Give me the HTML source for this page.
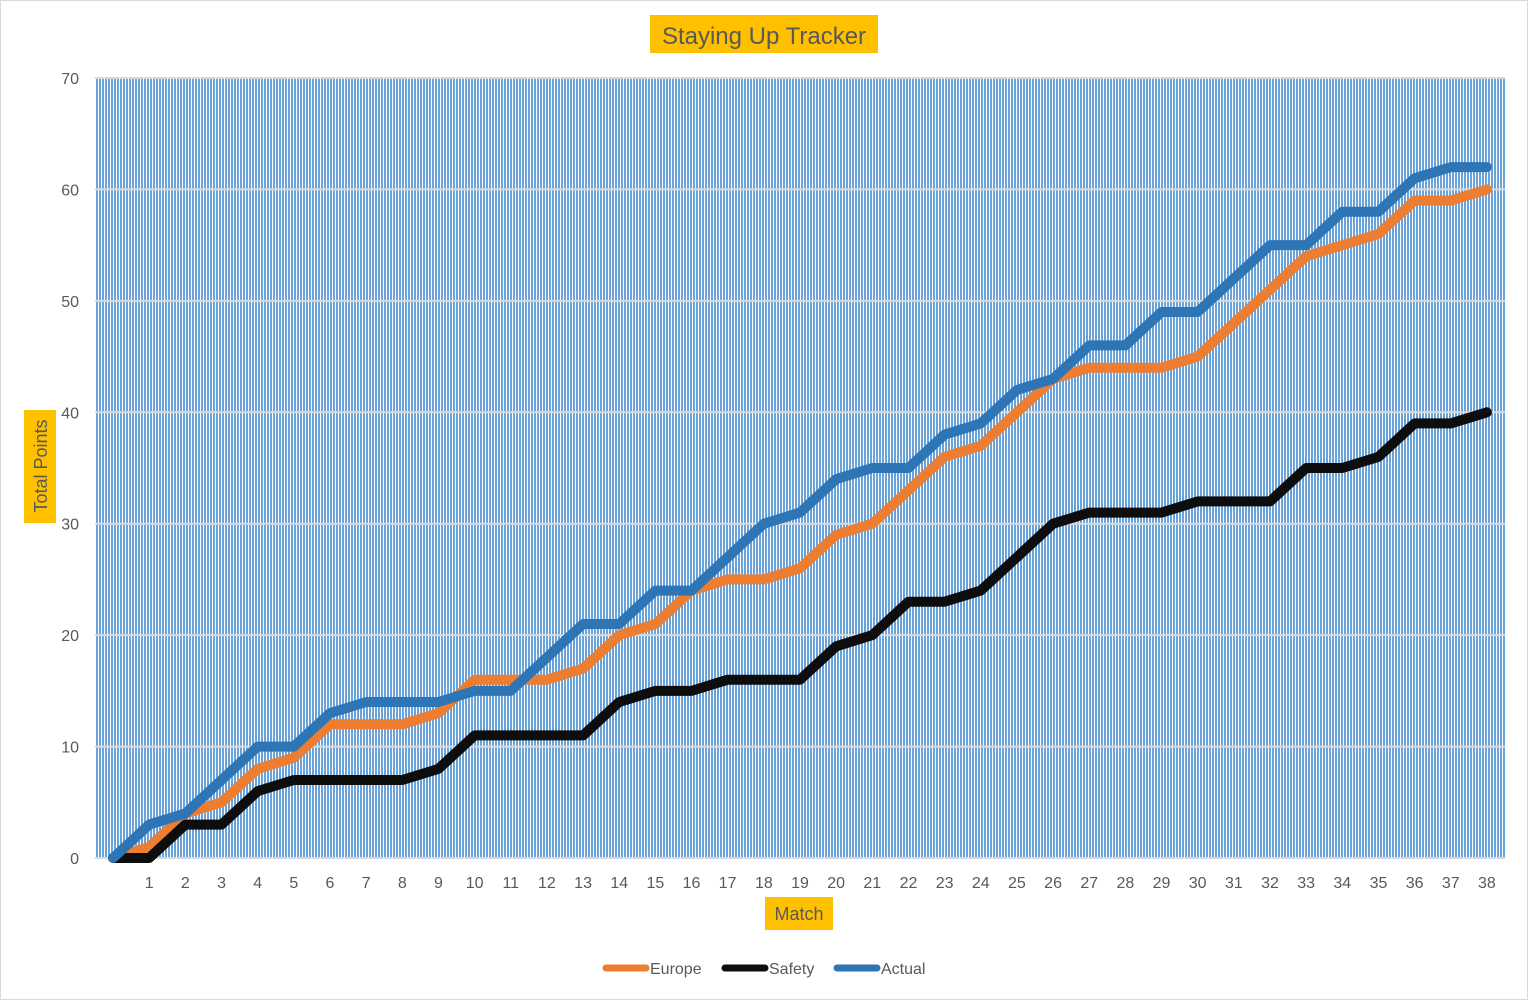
<!DOCTYPE html>
<html><head><meta charset="utf-8"><style>
body{margin:0;width:1528px;height:1000px;background:#fff;overflow:hidden;font-family:"Liberation Sans",Arial,sans-serif}
</style></head><body>
<svg id="chart" width="1528" height="1000" xmlns="http://www.w3.org/2000/svg" font-family="Liberation Sans, Arial, sans-serif">
<defs>
<pattern id="stripes" width="3" height="10" patternUnits="userSpaceOnUse">
<rect x="0" y="0" width="2" height="10" fill="#6aa3da"/>
</pattern>
</defs>
<rect x="0.5" y="0.5" width="1527" height="999" fill="#fff" stroke="#d9d9d9"/>
<rect x="95" y="78" width="1410" height="780" fill="url(#stripes)"/>
<g id="grid"></g>
<g id="yticks" font-size="16" fill="#595959" text-anchor="end"></g>
<g id="xticks" font-size="16" fill="#595959" text-anchor="middle"></g>
<g id="series"></g>
<rect x="650" y="15" width="228" height="38" fill="#ffc000"/>
<text x="764" y="44" font-size="24" fill="#595959" text-anchor="middle">Staying Up Tracker</text>
<rect x="24" y="410" width="32" height="113" fill="#ffc000"/>
<text transform="translate(47,466) rotate(-90)" font-size="18" fill="#595959" text-anchor="middle">Total Points</text>
<rect x="765" y="897" width="68" height="33" fill="#ffc000"/>
<text x="799" y="920" font-size="18" fill="#595959" text-anchor="middle">Match</text>
<g font-size="16" fill="#595959">
<g><line x1="606" y1="968" x2="646" y2="968" stroke="#ed7d31" stroke-width="7" stroke-linecap="round"/><text x="650" y="974">Europe</text></g>
<g><line x1="725" y1="968" x2="765" y2="968" stroke="#0d0d0d" stroke-width="7" stroke-linecap="round"/><text x="769" y="974">Safety</text></g>
<g><line x1="837" y1="968" x2="877" y2="968" stroke="#2e75b6" stroke-width="7" stroke-linecap="round"/><text x="881" y="974">Actual</text></g>
</g>
</svg>
<script>
const categories = ["", "1","2","3","4","5","6","7","8","9","10","11","12","13","14","15","16","17","18","19","20","21","22","23","24","25","26","27","28","29","30","31","32","33","34","35","36","37","38"];
const europe = [0,1,4,5,8,9,12,12,12,13,16,16,16,17,20,21,24,25,25,26,29,30,33,36,37,40,43,44,44,44,45,48,51,54,55,56,59,59,60];
const safety = [0,0,3,3,6,7,7,7,7,8,11,11,11,11,14,15,15,16,16,16,19,20,23,23,24,27,30,31,31,31,32,32,32,35,35,36,39,39,40];
const actual = [0,3,4,7,10,10,13,14,14,14,15,15,18,21,21,24,24,27,30,31,34,35,35,38,39,42,43,46,46,49,49,52,55,55,58,58,61,62,62];
const yTicks = [0,10,20,30,40,50,60,70];

const NS = "http://www.w3.org/2000/svg";
const L = 95, R = 1505, T = 78, B = 858, YMAX = 70;
const step = (R - L) / categories.length;
function xPos(i){ return L + step * (i + 0.5); }
function yPos(v){ return B - (v / YMAX) * (B - T); }

const grid = document.getElementById('grid');
const yt = document.getElementById('yticks');
yTicks.forEach(v => {
  const ln = document.createElementNS(NS, 'line');
  
  
  ln.setAttribute('x1', L); ln.setAttribute('x2', R);
  ln.setAttribute('y1', yPos(v)); ln.setAttribute('y2', yPos(v));
  ln.setAttribute('stroke', '#d9d9d9'); ln.setAttribute('stroke-width', '2');
  grid.appendChild(ln);
  const t = document.createElementNS(NS, 'text');
  
  
  t.setAttribute('x', 79); t.setAttribute('y', yPos(v) + 6);
  t.textContent = v;
  yt.appendChild(t);
});
const xt = document.getElementById('xticks');
categories.forEach((c, i) => {
  const t = document.createElementNS(NS, 'text');
  
  
  t.setAttribute('x', xPos(i)); t.setAttribute('y', 888);
  t.textContent = c;
  xt.appendChild(t);
});
const series = document.getElementById('series');
[[europe,'#ed7d31','europe-line'],[safety,'#0d0d0d','safety-line'],[actual,'#2e75b6','actual-line']].forEach(([d,col,name]) => {
  const p = document.createElementNS(NS, 'polyline');
  
  
  p.setAttribute('points', d.map((v,i) => xPos(i) + ',' + yPos(v)).join(' '));
  p.setAttribute('fill', 'none'); p.setAttribute('stroke', col);
  p.setAttribute('stroke-width', '10'); p.setAttribute('stroke-linecap', 'round'); p.setAttribute('stroke-linejoin', 'round');
  series.appendChild(p);
});
</script>
</body></html>
